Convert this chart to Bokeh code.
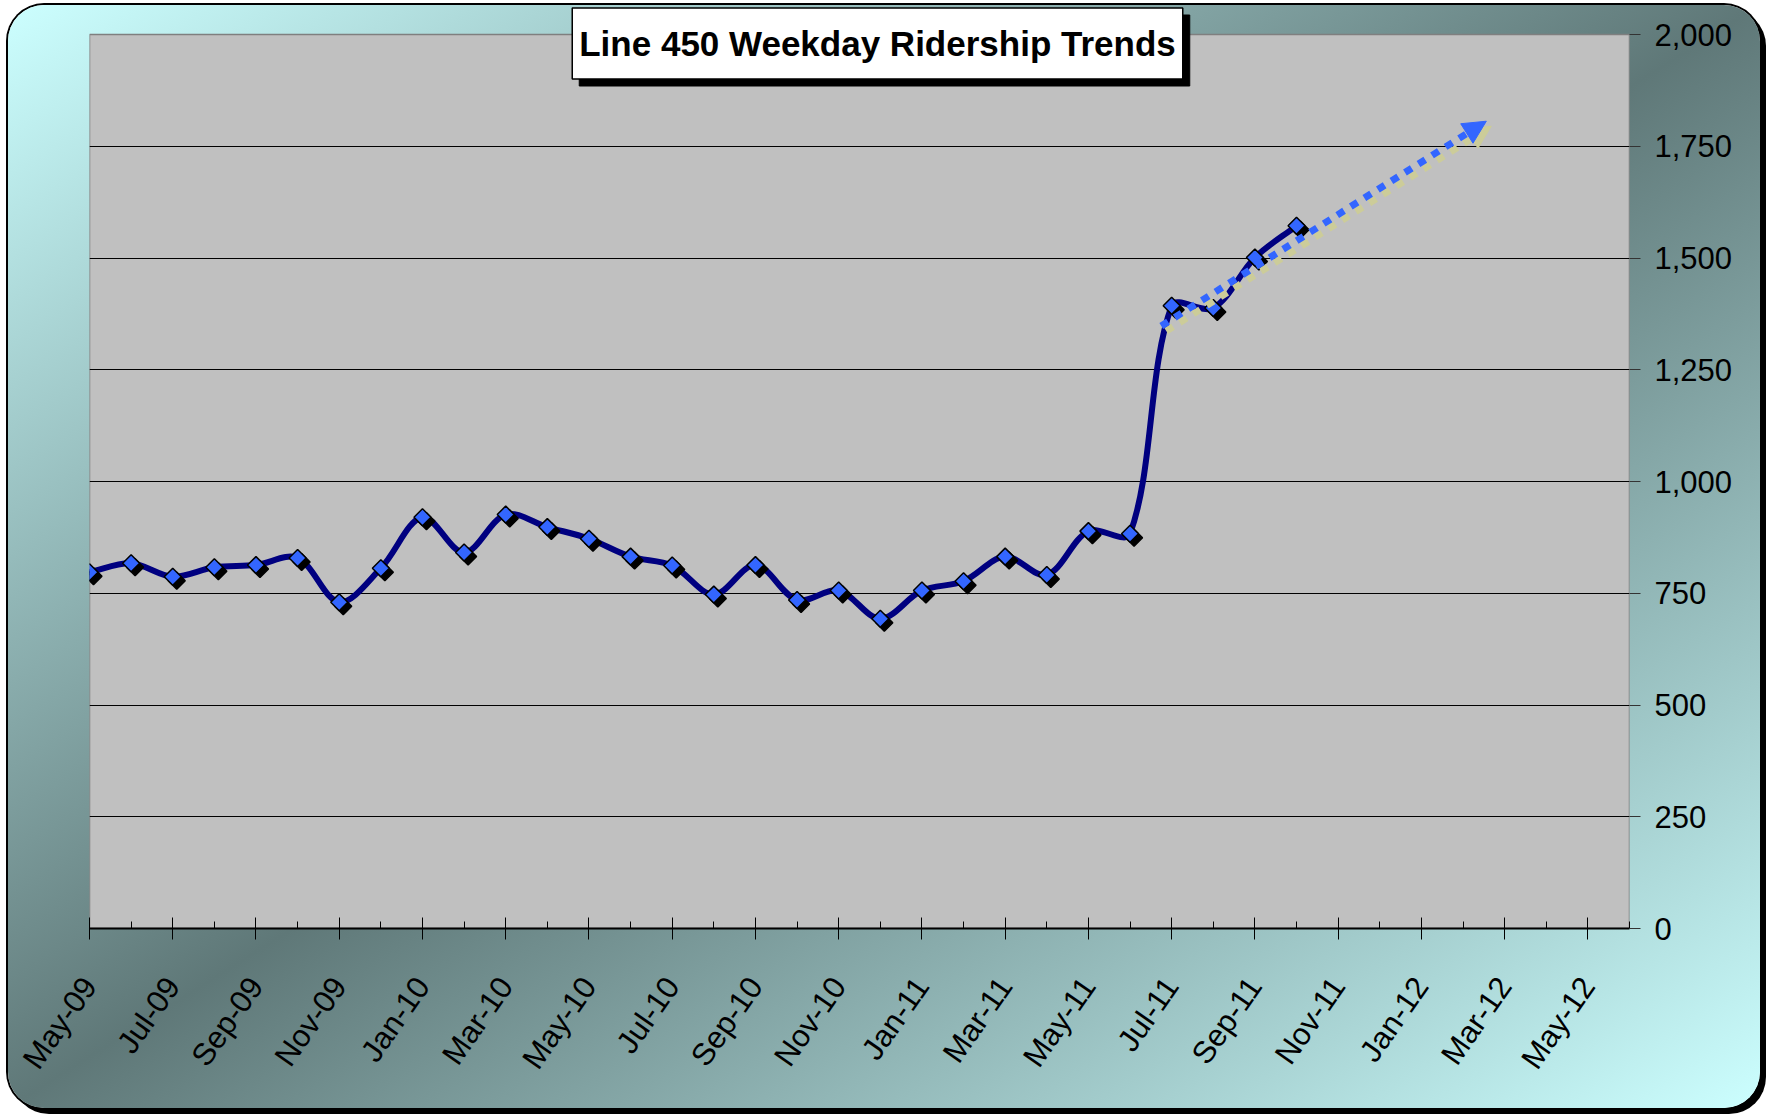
import math
from bokeh.plotting import figure
from bokeh.models import (Range1d, FixedTicker, NumeralTickFormatter, Label, Arrow,
                          NormalHead, ColumnDataSource)
from bokeh.embed import file_html
from bokeh.resources import INLINE

# ---------------- data ----------------
title_text = "Line 450 Weekday Ridership Trends"

axis_months = ["May-09", "Jun-09", "Jul-09", "Aug-09", "Sep-09", "Oct-09", "Nov-09", "Dec-09",
               "Jan-10", "Feb-10", "Mar-10", "Apr-10", "May-10", "Jun-10", "Jul-10", "Aug-10",
               "Sep-10", "Oct-10", "Nov-10", "Dec-10", "Jan-11", "Feb-11", "Mar-11", "Apr-11",
               "May-11", "Jun-11", "Jul-11", "Aug-11", "Sep-11", "Oct-11", "Nov-11", "Dec-11",
               "Jan-12", "Feb-12", "Mar-12", "Apr-12", "May-12", "Jun-12"]

months = ["May-09", "Jun-09", "Jul-09", "Aug-09", "Sep-09", "Oct-09", "Nov-09", "Dec-09",
          "Jan-10", "Feb-10", "Mar-10", "Apr-10", "May-10", "Jun-10", "Jul-10", "Aug-10",
          "Sep-10", "Oct-10", "Nov-10", "Dec-10", "Jan-11", "Feb-11", "Mar-11", "Apr-11",
          "May-11", "Jun-11", "Jul-11", "Aug-11", "Sep-11", "Oct-11"]

riders = [797, 817, 787, 808, 813, 829, 730, 806,
          920, 841, 926, 898, 872, 832, 812, 747,
          813, 735, 756, 693, 756, 777, 832, 791,
          889, 883, 1393, 1388, 1501, 1572]

y_ticks = [0, 250, 500, 750, 1000, 1250, 1500, 1750, 2000]

# trend arrow (month position, riders)
trend_x = [25.75, 33.56]
trend_y = [1348, 1806]

# ---------------- layout constants ----------------
W, H = 1752, 1103
ML, MR, MT, MB = 81, 131, 0, 180
FW = W - ML - MR
FH = H - MT - MB
TOP_PX = 29          # pixel distance from frame top to the top of the plot area

x_end = len(axis_months) - 1
y_max = y_ticks[-1]
y_top = y_max * FH / (FH - TOP_PX)   # frame extends above the plot area for the title

xs = [axis_months.index(m) for m in months]

p = figure(width=W, height=H, output_backend="svg", toolbar_location=None,
           x_range=Range1d(0, x_end), y_range=Range1d(0, y_top),
           y_axis_location="right",
           min_border_left=ML, min_border_right=MR, min_border_top=MT, min_border_bottom=MB)
p.margin = (5, 0, 0, 8)

p.border_fill_color = None
p.background_fill_color = None
p.outline_line_color = None
p.styles = {
    "background": "linear-gradient(to bottom right, #CCFFFF 0%, #5F7878 50%, #CCFFFF 100%)",
    "border-radius": "36px",
    "box-shadow": "0 0 0 2px #000000, 5px 5px 0 1px #000000",
}

# plot area (gray)
p.quad(left=[0], right=[x_end], bottom=[0], top=[y_max], fill_color="#C0C0C0",
       line_color="#7F7F7F", line_width=1.5, level="image")

# shifted ranges for drop shadows (in pixels)
def shifted(px_x, px_y, name):
    dx = px_x * x_end / FW
    dy = px_y * y_top / FH
    p.extra_x_ranges[name + "x"] = Range1d(0 - dx, x_end - dx)
    p.extra_y_ranges[name + "y"] = Range1d(0 + dy, y_top + dy)

shifted(4, 4, "mk")
shifted(5, 5, "tr")

# ---------------- axes ----------------
major = [i for i in range(0, x_end, 2)]
minor = list(range(0, x_end + 1))
xa = p.xaxis[0]
xa.ticker = FixedTicker(ticks=major, minor_ticks=minor)
xa.major_label_overrides = {i: axis_months[i] for i in major}
xa.major_label_orientation = math.radians(55)
xa.major_label_text_font = "Liberation Sans"
xa.major_label_text_font_size = "31px"
xa.major_label_text_color = "black"
xa.major_label_standoff = 41
xa.major_tick_in = 11
xa.major_tick_out = 11
xa.minor_tick_in = 7
xa.minor_tick_out = 0
xa.major_tick_line_color = "black"
xa.minor_tick_line_color = "black"
xa.axis_line_color = "black"
xa.axis_line_width = 2

ya = p.yaxis[0]
ya.ticker = FixedTicker(ticks=y_ticks)
ya.formatter = NumeralTickFormatter(format="0,0")
ya.major_label_text_font = "Liberation Sans"
ya.major_label_text_font_size = "31px"
ya.major_label_text_color = "black"
ya.major_label_standoff = 14
ya.major_tick_in = 0
ya.major_tick_out = 11
ya.minor_tick_line_color = None
ya.major_tick_line_color = "#333333"
ya.axis_line_color = None

p.xgrid.visible = False
p.ygrid.ticker = FixedTicker(ticks=y_ticks[1:-1])
p.ygrid.grid_line_color = "black"
p.ygrid.grid_line_width = 1

# ---------------- smoothed data line (bezier segments, chord-length tangents) ----------------
sx = FW / x_end
sy = FH / y_top

def dist(i, j):
    return math.hypot((xs[j] - xs[i]) * sx, (riders[j] - riders[i]) * sy)

n = len(xs)
seg = dict(x0=[], y0=[], x1=[], y1=[], cx0=[], cy0=[], cx1=[], cy1=[])
for i in range(n - 1):
    a = max(i - 1, 0)
    b = min(i + 2, n - 1)
    d_prev, d_cur, d_next = dist(a, i), dist(i, i + 1), dist(i + 1, b)
    f1 = d_cur / (3 * (d_prev + d_cur))
    f2 = d_cur / (3 * (d_cur + d_next))
    seg["x0"].append(xs[i]); seg["y0"].append(riders[i])
    seg["x1"].append(xs[i + 1]); seg["y1"].append(riders[i + 1])
    seg["cx0"].append(xs[i] + (xs[i + 1] - xs[a]) * f1)
    seg["cy0"].append(riders[i] + (riders[i + 1] - riders[a]) * f1)
    seg["cx1"].append(xs[i + 1] - (xs[b] - xs[i]) * f2)
    seg["cy1"].append(riders[i + 1] - (riders[b] - riders[i]) * f2)

p.bezier(x0="x0", y0="y0", x1="x1", y1="y1", cx0="cx0", cy0="cy0", cx1="cx1", cy1="cy1",
         source=ColumnDataSource(seg), line_color="#000080", line_width=6, line_cap="round")

src = ColumnDataSource(dict(x=xs, y=riders, month=months))
p.scatter(x="x", y="y", source=src, marker="square", angle=math.pi / 4, size=12,
          fill_color="black", line_color="black", line_width=1.5,
          x_range_name="mkx", y_range_name="mky")
p.scatter(x="x", y="y", source=src, marker="square", angle=math.pi / 4, size=12,
          fill_color="#3366FF", line_color="black", line_width=1.5)

# ---------------- trend arrow with shadow ----------------
shadow_arrow = Arrow(end=NormalHead(size=23, fill_color="#CCCC99", line_color="#CCCC99"),
                     x_start=trend_x[0], y_start=trend_y[0], x_end=trend_x[1], y_end=trend_y[1],
                     line_color="#CCCC99", line_width=7, line_dash="8 8", line_cap="butt",
                     x_range_name="trx", y_range_name="try")
main_arrow = Arrow(end=NormalHead(size=23, fill_color="#3366FF", line_color="#3366FF"),
                   x_start=trend_x[0], y_start=trend_y[0], x_end=trend_x[1], y_end=trend_y[1],
                   line_color="#3366FF", line_width=7, line_dash="8 8", line_cap="butt")
p.add_layout(shadow_arrow)
p.add_layout(main_arrow)

# ---------------- title box ----------------
common = dict(x=788, y=FH - 38, x_units="screen", y_units="screen", text=title_text,
              text_font="Liberation Sans", text_font_style="bold",
              text_font_size="35px", text_align="center", text_baseline="middle",
              padding=dict(left=7, right=7, top=16, bottom=16))
p.add_layout(Label(**common, x_offset=7, y_offset=-7, text_color="black",
                   background_fill_color="black", border_line_color="black"))
p.add_layout(Label(**common, text_color="black", background_fill_color="white",
                   border_line_color="black", border_line_width=1.5))

open("out.html", "w").write(file_html(p, INLINE))
